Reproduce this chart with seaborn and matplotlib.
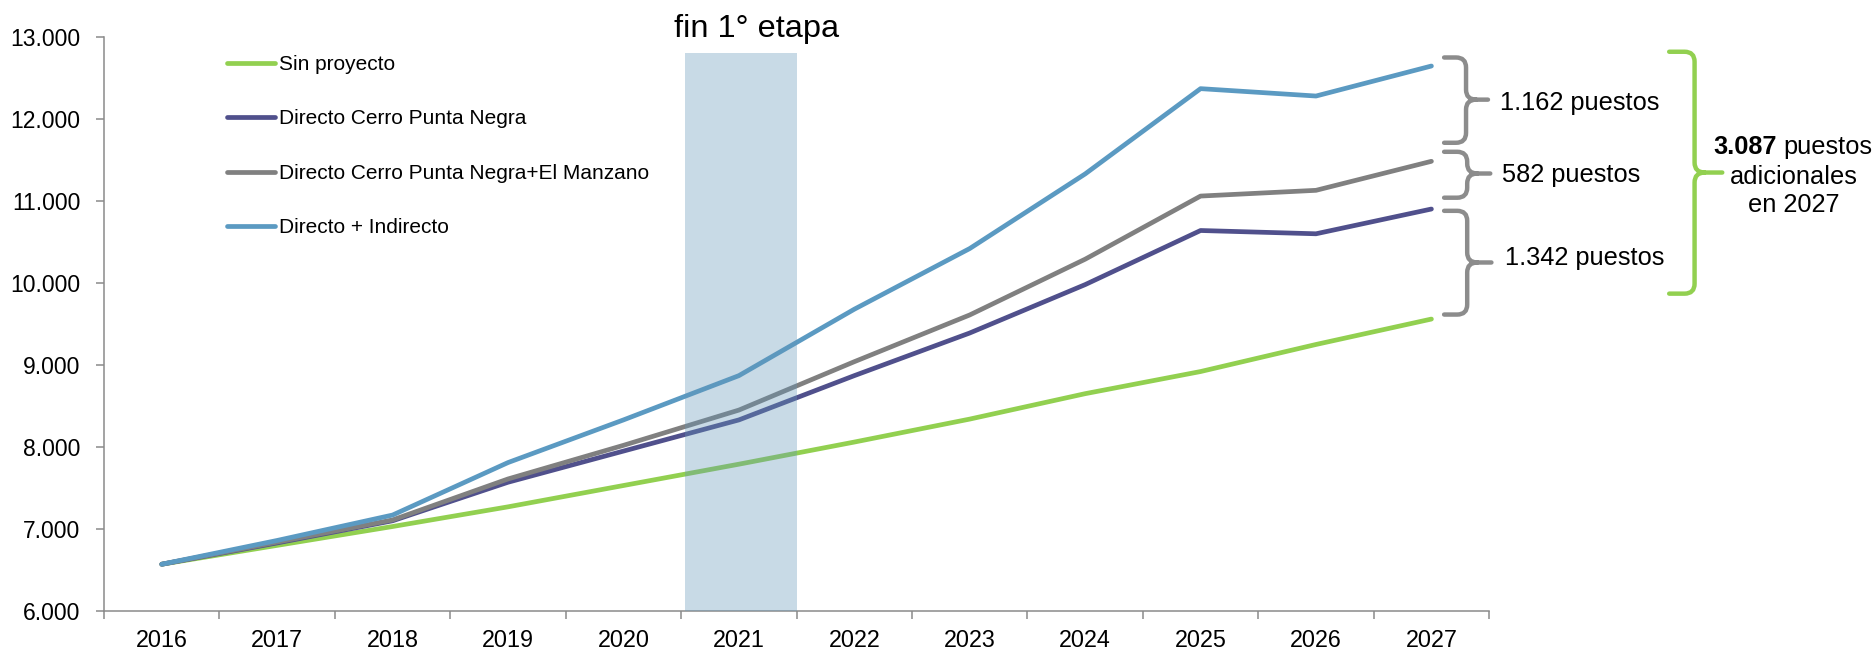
import numpy as np
import pandas as pd
import seaborn as sns
from matplotlib import pyplot as plt
from matplotlib.path import Path
from matplotlib.patches import PathPatch
from matplotlib.transforms import IdentityTransform

# datos (empleos por año)
years = [2016, 2017, 2018, 2019, 2020, 2021, 2022, 2023, 2024, 2025, 2026, 2027]
sin_proyecto = [6570, 6800, 7030, 7270, 7530, 7790, 8060, 8340, 8650, 8920, 9250, 9560]
directo_cpn = [6570, 6830, 7100, 7570, 7950, 8330, 8870, 9390, 9980, 10640, 10600, 10902]
directo_cpn_em = [6570, 6840, 7110, 7610, 8020, 8450, 9040, 9610, 10290, 11060, 11130, 11484]
directo_indirecto = [6570, 6860, 7170, 7810, 8330, 8870, 9680, 10420, 11330, 12370, 12280, 12646]

series = ["Sin proyecto", "Directo Cerro Punta Negra",
          "Directo Cerro Punta Negra+El Manzano", "Directo + Indirecto"]
colores = ["#92d050", "#50508c", "#808080", "#5b9ac2"]

brace_labels = ["1.162 puestos", "582 puestos", "1.342 puestos"]

df = pd.DataFrame({
    "idx": list(range(len(years))) * 4,
    "valor": sin_proyecto + directo_cpn + directo_cpn_em + directo_indirecto,
    "serie": np.repeat(series, len(years)),
})

sns.set_style("ticks")
plt.rcParams["font.family"] = ["Liberation Sans", "DejaVu Sans"]
plt.rcParams["text.color"] = "black"
plt.rcParams["xtick.labelcolor"] = "black"
plt.rcParams["ytick.labelcolor"] = "black"

fig = plt.figure(figsize=(18.75, 6.49), dpi=100)
ax = fig.add_axes([0.0555, 0.0586, 0.7387, 0.8844])

sns.lineplot(data=df, x="idx", y="valor", hue="serie", hue_order=series,
             palette=dict(zip(series, colores)), linewidth=3.4, ax=ax,
             solid_capstyle="round", solid_joinstyle="round")

# franja fin 1° etapa (semi transparente, encima de las lineas)
ax.axvspan(4.53, 5.5, ymin=0, ymax=(12805 - 6000) / 7000, color="#6295b8",
           alpha=0.35, lw=0, zorder=5)
ax.text(5.15, 13000, "fin 1° etapa", ha="center", va="baseline", fontsize=23.4)

ax.set_xlim(-0.5, 11.5)
ax.set_ylim(6000, 13000)
ax.set_yticks(range(6000, 13001, 1000))
ax.set_yticklabels([f"{v:,}".replace(",", ".") for v in range(6000, 13001, 1000)])
ax.set_xticks(np.arange(-0.5, 12, 1))
ax.set_xticklabels([])
ax.set_xticks(range(len(years)), minor=True)
ax.set_xticklabels([str(y) for y in years], minor=True)
ax.tick_params(axis="x", which="minor", length=0, labelsize=16.8, pad=13)
ax.tick_params(axis="x", which="major", length=6, width=1.1, color="#8a8a8a")
ax.tick_params(axis="y", length=6, width=1.1, color="#8a8a8a", labelsize=16.5, pad=11)
ax.set_xlabel("")
ax.set_ylabel("")
for s in ["top", "right"]:
    ax.spines[s].set_visible(False)
for s in ["left", "bottom"]:
    ax.spines[s].set_color("#8a8a8a")
    ax.spines[s].set_linewidth(1.1)

handles, labels = ax.get_legend_handles_labels()
ax.legend(handles, labels, frameon=False, fontsize=15, loc="upper left",
          bbox_to_anchor=(227 / 1875, 1 - 55 / 649), bbox_transform=fig.transFigure,
          borderpad=0, borderaxespad=0, handlelength=2.3, handletextpad=0.2,
          labelspacing=1.7)


def llave(x_left, x_spine, x_tip, y_top, y_bot, y_mid, color):
    # llave "}" en pixeles a partir de coordenadas de datos
    (xl, yt), (xs, yb), (xt, ym) = ax.transData.transform(
        [(x_left, y_top), (x_spine, y_bot), (x_tip, y_mid)])
    r = 10
    verts = [(xl, yt), (xs - r, yt), (xs, yt), (xs, yt - r), (xs, ym + r),
             (xs, ym), (xs + r, ym), (xt, ym),
             (xs + r, ym), (xs, ym), (xs, ym - r), (xs, yb + r),
             (xs, yb), (xs - r, yb), (xl, yb)]
    codes = [Path.MOVETO, Path.LINETO, Path.CURVE3, Path.CURVE3, Path.LINETO,
             Path.CURVE3, Path.CURVE3, Path.LINETO,
             Path.MOVETO, Path.CURVE3, Path.CURVE3, Path.LINETO,
             Path.CURVE3, Path.CURVE3, Path.LINETO]
    fig.add_artist(PathPatch(Path(verts, codes), transform=IdentityTransform(),
                             fill=False, edgecolor=color, lw=3.2,
                             capstyle="round", joinstyle="round"))


llave(11.11, 11.30, 11.49, 12750, 11710, 12236, "#8c8c8c")
llave(11.11, 11.31, 11.51, 11600, 11040, 11335, "#8c8c8c")
llave(11.11, 11.31, 11.52, 10880, 9615, 10250, "#8c8c8c")
llave(13.06, 13.28, 13.52, 12820, 9870, 11347, "#92d050")

ax.text(11.59, 12200, brace_labels[0], ha="left", va="center", fontsize=18.3)
ax.text(11.61, 11317, brace_labels[1], ha="left", va="center", fontsize=18.3)
ax.text(11.64, 10305, brace_labels[2], ha="left", va="center", fontsize=18.3)

ax.text(13.99, 11659, "3.087", ha="right", va="center", fontsize=18.3, fontweight="bold")
ax.text(14.05, 11659, "puestos", ha="left", va="center", fontsize=18.3)
ax.text(14.14, 11293, "adicionales", ha="center", va="center", fontsize=18.3)
ax.text(14.14, 10951, "en 2027", ha="center", va="center", fontsize=18.3)

fig.savefig("out.png", dpi=100)
